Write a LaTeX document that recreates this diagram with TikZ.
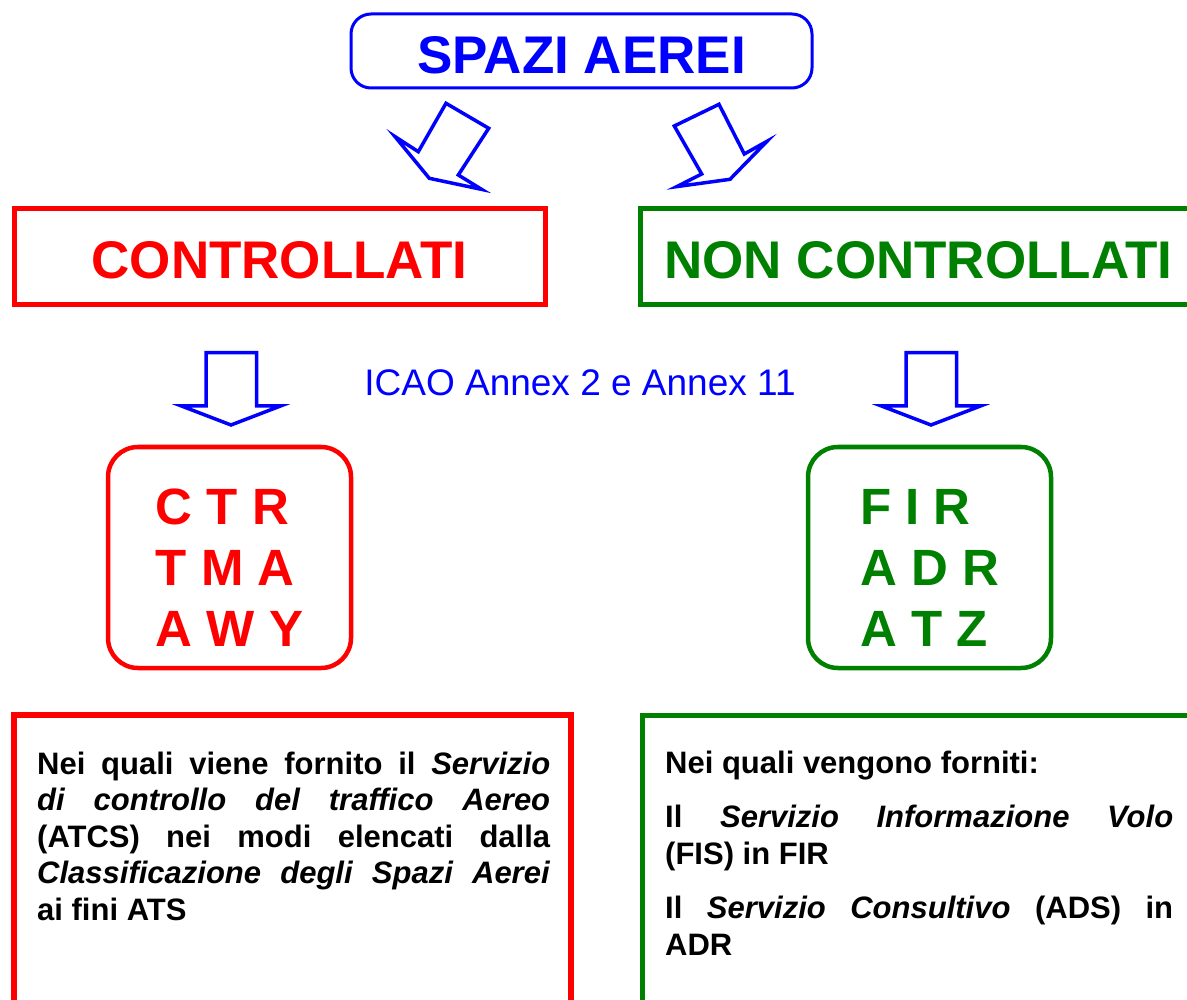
\documentclass[tikz,border=0pt]{standalone}
\usepackage{fontspec}
\setmainfont{Liberation Sans}
\usetikzlibrary{positioning}
\definecolor{aereoblue}{RGB}{0,0,255}
\definecolor{ctrlred}{RGB}{255,0,0}
\definecolor{freegreen}{RGB}{0,128,0}

\begin{document}
\begin{tikzpicture}[x=1pt, y=-1pt,
    title/.style={draw=aereoblue, line width=3pt, rounded corners=20pt, minimum width=461pt, minimum height=74pt,
        text=aereoblue, text height=46pt, text depth=0pt, font=\fontsize{53}{60}\selectfont\bfseries},
    kind/.style={draw=#1, line width=5pt, minimum height=96pt,
        text=#1, text height=44pt, text depth=0pt, font=\fontsize{53}{60}\selectfont\bfseries},
    zones/.style={draw=#1, line width=4.5pt, rounded corners=30pt, minimum width=243pt, minimum height=221pt,
        text=#1, align=left, font=\fontsize{51}{61}\selectfont\bfseries},
    service/.style={anchor=north west, inner sep=0pt, align=justify, font=\fontsize{31}{36.5}\selectfont\bfseries},
    blockarrow/.style={draw=aereoblue, line width=3.5pt, fill=white}
]
\useasboundingbox (0,0) rectangle (1187,1000);
\clip (0,0) rectangle (1187,1000);

% Top
\node[title] (spazi) at (581.5,51) {SPAZI AEREI};

% Skewed arrows
\draw[blockarrow] (446,103.3) -- (488.7,128.3) -- (458.3,175) -- (481.7,189.4)
    -- (429.3,178.3) -- (395,136.6) -- (418.3,151.7) -- cycle;
\draw[blockarrow] (674.3,126) -- (719,104.3) -- (744.3,154) -- (767,141.3)
    -- (730,179.3) -- (676.8,186.6) -- (701.7,174) -- cycle;

% Controlled / uncontrolled
\node[kind=ctrlred, minimum width=531pt] (contr) at (279.5,257) {CONTROLLATI};
\node[kind=freegreen, minimum width=557pt] (noncontr) at (918.5,257) {NON CONTROLLATI};

% Down arrows
\foreach \dx in {0,700} {
    \draw[blockarrow] (206+\dx,352.7) -- (256.7+\dx,352.7) -- (256.7+\dx,406) -- (280.5+\dx,406)
        -- (231+\dx,425) -- (181.5+\dx,406) -- (206+\dx,406) -- cycle;
}
\node[text=aereoblue, font=\fontsize{37}{40}\selectfont] (icao) at (580,383) {ICAO Annex 2 e Annex 11};

% Zones
\node[zones=ctrlred] (ctr) at (229.5,557.5) {\rule{0pt}{56pt}C T R\\T M A\\A W Y};
\node[zones=freegreen] (fir) at (929.5,557.5) {\rule{0pt}{56pt}F I R\\A D R\\A T Z};

% Services
\draw[ctrlred, line width=6pt] (571,1010) |- (13.5,715) -- (13.5,1010);
\draw[freegreen, line width=5pt] (642,1010) |- (1200,715);
\node[service, text width=513pt] (atcs) at (37,751.5)
    {Nei quali viene fornito il \textit{Servizio}\linebreak
     \textit{di controllo del traffico Aereo}\linebreak
     (ATCS) nei modi elencati dalla\linebreak
     \textit{Classificazione degli Spazi Aerei}\linebreak
     ai fini ATS};
\node[service, text width=508pt] (fis) at (665,750.5)
    {\setlength{\parskip}{18pt}Nei quali vengono forniti:\par
     Il \textit{Servizio Informazione Volo}\linebreak
     (FIS) in FIR\par
     Il \textit{Servizio Consultivo} (ADS) in\linebreak
     ADR};

\end{tikzpicture}
\end{document}
